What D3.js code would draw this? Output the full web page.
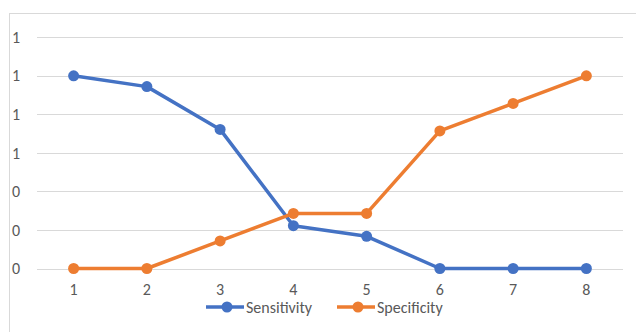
<!DOCTYPE html>
<html><head><meta charset="utf-8">
<script src="https://cdn.jsdelivr.net/npm/d3@7"></script>
<style>html,body{margin:0;padding:0;background:#fff;}svg{display:block;font-family:Calibri,Carlito,"Liberation Sans","DejaVu Sans",sans-serif;}</style>
</head><body>
<svg id="c" width="636" height="332"></svg>
<script>
const categories = [1, 2, 3, 4, 5, 6, 7, 8];
const sensitivity = [1.0, 0.944, 0.722, 0.222, 0.167, 0, 0, 0];
const specificity = [0, 0, 0.143, 0.286, 0.286, 0.714, 0.857, 1.0];
const yTicks = [0, 0.2, 0.4, 0.6, 0.8, 1.0, 1.2];
const seriesNames = ["Sensitivity", "Specificity"];
const colors = ["#4472C4", "#ED7D31"];

const svg = d3.select("#c");
svg.append("rect").attr("x", 9.5).attr("y", 13.5).attr("width", 640).attr("height", 340)
  .attr("fill", "#fff").attr("stroke", "#d9d9d9").attr("stroke-width", 1);

const x = d3.scaleBand().domain(categories).range([37, 623]);
const y = d3.scaleLinear().domain([0, 1.2]).range([268.5, 37.3]);

const grid = svg.append("g");
yTicks.forEach(t => {
  grid.append("line").attr("x1", 37).attr("x2", 623)
    .attr("y1", Math.round(y(t)) + 0.5).attr("y2", Math.round(y(t)) + 0.5)
    .attr("stroke", "#d9d9d9").attr("stroke-width", 1);
  svg.append("text").attr("x", 12).attr("y", y(t)).attr("dy", "0.35em")
    .attr("font-size", 16).attr("fill", "#595959").text(d3.format(".0f")(t));
});

categories.forEach(c => {
  svg.append("text").attr("x", x(c) + x.bandwidth() / 2).attr("y", 295)
    .attr("text-anchor", "middle").attr("font-size", 16).attr("fill", "#595959").text(c);
});

const line = d3.line().x((d, i) => x(categories[i]) + x.bandwidth() / 2).y(d => y(d));
[sensitivity, specificity].forEach((s, k) => {
  svg.append("path").datum(s).attr("d", line).attr("fill", "none")
    .attr("stroke", colors[k]).attr("stroke-width", 3.5).attr("stroke-linejoin", "round").attr("stroke-linecap", "round");
  svg.selectAll(null).data(s).enter().append("circle")
    .attr("cx", (d, i) => x(categories[i]) + x.bandwidth() / 2).attr("cy", d => y(d))
    .attr("r", 5.5).attr("fill", colors[k]);
});

const legendX = [206, 337];
seriesNames.forEach((n, k) => {
  const g = svg.append("g").attr("transform", `translate(${legendX[k]},307)`);
  g.append("line").attr("x1", 0).attr("x2", 38).attr("stroke", colors[k]).attr("stroke-width", 3.5);
  g.append("circle").attr("cx", 21).attr("r", 5.5).attr("fill", colors[k]);
  g.append("text").attr("x", 40).attr("dy", "0.35em").attr("font-size", 16).attr("fill", "#595959").text(n);
});
</script>
</body></html>
